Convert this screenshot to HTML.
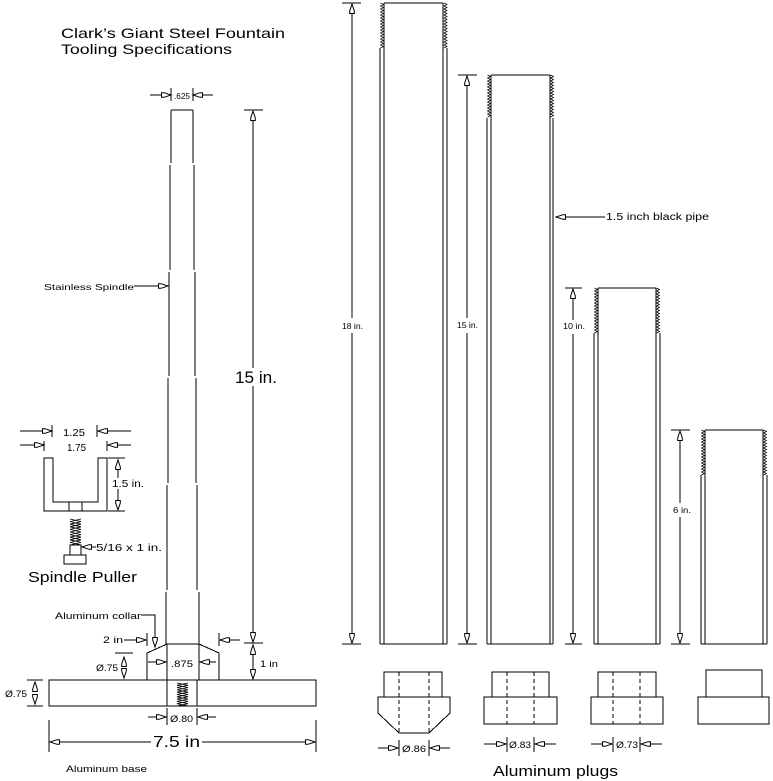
<!DOCTYPE html>
<html><head><meta charset="utf-8"><style>
html,body{margin:0;padding:0;background:#fff;}
svg{display:block;}
text{font-family:"Liberation Sans",sans-serif;fill:#000;}
</style></head><body>
<svg width="773" height="781" viewBox="0 0 773 781" xmlns="http://www.w3.org/2000/svg">
<defs>
<g id="ar"><polygon points="0,0 -7,-2.3 -9.5,-2.3 -9.5,2.3 -7,2.3" fill="#fff" stroke="#000" stroke-width="1"/></g>
</defs>
<rect width="773" height="781" fill="#fff"/>

<!-- Title -->
<text x="61" y="38" font-size="14" textLength="224" lengthAdjust="spacingAndGlyphs">Clark’s Giant Steel Fountain</text>
<text x="61" y="54" font-size="14" textLength="171" lengthAdjust="spacingAndGlyphs">Tooling Specifications</text>

<g stroke="#000" stroke-width="1" fill="none" shape-rendering="crispEdges">
<!-- .625 dim -->
<line x1="150" y1="95" x2="163" y2="95"/>
<line x1="171" y1="88" x2="171" y2="101"/>
<line x1="193" y1="88" x2="193" y2="101"/>
<line x1="203" y1="95" x2="213" y2="95"/>

<!-- spindle -->
<line x1="171" y1="110" x2="193" y2="110"/>
<line x1="171" y1="110" x2="171" y2="163"/><line x1="193" y1="110" x2="193" y2="163"/>
<line x1="170" y1="165" x2="170" y2="270"/><line x1="194" y1="165" x2="194" y2="270"/>
<line x1="169" y1="272" x2="169" y2="376"/><line x1="195" y1="272" x2="195" y2="376"/>
<line x1="168" y1="378" x2="168" y2="483"/><line x1="196" y1="378" x2="196" y2="483"/>
<line x1="167" y1="485" x2="167" y2="590"/><line x1="197" y1="485" x2="197" y2="590"/>
<line x1="166" y1="592" x2="166" y2="644"/><line x1="199" y1="592" x2="199" y2="644"/>

<!-- 15 in dim -->
<line x1="244" y1="110" x2="263" y2="110"/>
<line x1="253" y1="111" x2="253" y2="368"/>
<line x1="253" y1="386" x2="253" y2="643"/>
<line x1="244" y1="643" x2="263" y2="643"/>
<!-- 1 in dim -->
<line x1="253" y1="645" x2="253" y2="679"/>

<!-- collar -->
<polyline points="147,680 147,653 167,644 199,644 219,653 219,680"/>
<line x1="167" y1="644" x2="167" y2="680"/>
<line x1="199" y1="644" x2="199" y2="680"/>
<line x1="148" y1="662" x2="157" y2="662"/>
<line x1="209" y1="662" x2="216" y2="662"/>

<!-- aluminum collar leader -->
<polyline points="141,615 155,615 155,638"/>
<!-- 2 in -->
<line x1="124" y1="640" x2="137" y2="640"/>
<line x1="147" y1="633" x2="147" y2="646"/>
<line x1="219" y1="633" x2="219" y2="646"/>
<line x1="229" y1="640" x2="240" y2="640"/>
<!-- collar 0.75 -->
<line x1="115" y1="653" x2="133" y2="653"/>

<!-- base -->
<rect x="49" y="680" width="267" height="26"/>
<line x1="167" y1="680" x2="167" y2="706"/>
<line x1="197" y1="680" x2="197" y2="706"/>
<!-- base left dim -->
<line x1="27" y1="680" x2="43" y2="680"/>
<line x1="27" y1="706" x2="43" y2="706"/>
<!-- 0.80 -->
<line x1="167" y1="708" x2="167" y2="725"/>
<line x1="197" y1="708" x2="197" y2="725"/>
<line x1="148" y1="717" x2="157" y2="717"/>
<line x1="208" y1="717" x2="216" y2="717"/>
<!-- 7.5 in -->
<line x1="49" y1="720" x2="49" y2="752"/>
<line x1="316" y1="720" x2="316" y2="752"/>
<line x1="59" y1="742" x2="151" y2="742"/>
<line x1="202" y1="742" x2="306" y2="742"/>

<!-- stainless leader -->
<line x1="134" y1="286" x2="159" y2="286"/>

<!-- spindle puller -->
<line x1="20" y1="431" x2="43" y2="431"/>
<line x1="52" y1="425" x2="52" y2="437"/>
<line x1="97" y1="425" x2="97" y2="437"/>
<line x1="107" y1="431" x2="131" y2="431"/>
<line x1="20" y1="445" x2="35" y2="445"/>
<line x1="44" y1="441" x2="44" y2="451"/>
<line x1="107" y1="441" x2="107" y2="451"/>
<line x1="117" y1="445" x2="131" y2="445"/>
<polygon points="44,458 44,511 107,511 107,458 98,458 98,502 53,502 53,458"/>
<line x1="69" y1="502" x2="69" y2="511"/>
<line x1="82" y1="502" x2="82" y2="511"/>
<line x1="108" y1="458" x2="125" y2="458"/>
<line x1="108" y1="511" x2="125" y2="511"/>
<line x1="118" y1="469" x2="118" y2="478"/>
<line x1="118" y1="489" x2="118" y2="501"/>
<rect x="70" y="545" width="11" height="10"/>
<rect x="64" y="555" width="22" height="9"/>
<line x1="91" y1="547" x2="96" y2="547"/>

<!-- pipe 1 -->
<line x1="384" y1="3" x2="443" y2="3"/>
<line x1="384" y1="3" x2="384" y2="644"/>
<line x1="443" y1="3" x2="443" y2="644"/>
<line x1="380" y1="48" x2="380" y2="644"/>
<line x1="447" y1="48" x2="447" y2="644"/>
<line x1="380" y1="644" x2="447" y2="644"/>
<line x1="342" y1="3" x2="361" y2="3"/>
<line x1="352" y1="13" x2="352" y2="318"/>
<line x1="352" y1="333" x2="352" y2="634"/>
<line x1="342" y1="644" x2="361" y2="644"/>

<!-- pipe 2 -->
<line x1="491" y1="75" x2="550" y2="75"/>
<line x1="491" y1="75" x2="491" y2="644"/>
<line x1="550" y1="75" x2="550" y2="644"/>
<line x1="487" y1="118" x2="487" y2="644"/>
<line x1="553" y1="118" x2="553" y2="644"/>
<line x1="487" y1="644" x2="553" y2="644"/>
<line x1="458" y1="75" x2="477" y2="75"/>
<line x1="467" y1="85" x2="467" y2="318"/>
<line x1="467" y1="333" x2="467" y2="634"/>
<line x1="458" y1="644" x2="477" y2="644"/>

<!-- pipe 3 -->
<line x1="598" y1="288" x2="656" y2="288"/>
<line x1="598" y1="288" x2="598" y2="644"/>
<line x1="656" y1="288" x2="656" y2="644"/>
<line x1="594" y1="333" x2="594" y2="644"/>
<line x1="660" y1="333" x2="660" y2="644"/>
<line x1="594" y1="644" x2="660" y2="644"/>
<line x1="565" y1="288" x2="582" y2="288"/>
<line x1="573" y1="298" x2="573" y2="320"/>
<line x1="573" y1="334" x2="573" y2="634"/>
<line x1="565" y1="644" x2="582" y2="644"/>

<!-- pipe 4 -->
<line x1="705" y1="430" x2="763" y2="430"/>
<line x1="705" y1="430" x2="705" y2="644"/>
<line x1="763" y1="430" x2="763" y2="644"/>
<line x1="701" y1="475" x2="701" y2="644"/>
<line x1="767" y1="475" x2="767" y2="644"/>
<line x1="701" y1="644" x2="767" y2="644"/>
<line x1="671" y1="430" x2="690" y2="430"/>
<line x1="680" y1="440" x2="680" y2="503"/>
<line x1="680" y1="517" x2="680" y2="634"/>
<line x1="671" y1="644" x2="690" y2="644"/>

<!-- black pipe leader -->
<line x1="566" y1="217" x2="605" y2="217"/>

<!-- plugs -->
<rect x="384" y="672" width="58" height="25"/>
<polygon points="378,697 450,697 450,713 429,733 399,733 378,713"/>
<rect x="492" y="672" width="57" height="25"/>
<rect x="484" y="697" width="73" height="27"/>
<rect x="598" y="672" width="58" height="25"/>
<rect x="591" y="697" width="72" height="27"/>
<rect x="706" y="670" width="56" height="27"/>
<rect x="698" y="697" width="71" height="27"/>
<g stroke-dasharray="4,3">
<line x1="399" y1="672" x2="399" y2="733"/>
<line x1="429" y1="672" x2="429" y2="733"/>
<line x1="507" y1="672" x2="507" y2="724"/>
<line x1="534" y1="672" x2="534" y2="724"/>
<line x1="613" y1="672" x2="613" y2="724"/>
<line x1="640" y1="672" x2="640" y2="724"/>
</g>
<line x1="378" y1="748" x2="389" y2="748"/>
<line x1="399" y1="740" x2="399" y2="756"/>
<line x1="429" y1="740" x2="429" y2="756"/>
<line x1="440" y1="748" x2="450" y2="748"/>
<line x1="484" y1="744" x2="497" y2="744"/>
<line x1="507" y1="737" x2="507" y2="752"/>
<line x1="534" y1="737" x2="534" y2="752"/>
<line x1="545" y1="744" x2="556" y2="744"/>
<line x1="591" y1="744" x2="603" y2="744"/>
<line x1="613" y1="737" x2="613" y2="752"/>
<line x1="640" y1="737" x2="640" y2="752"/>
<line x1="651" y1="744" x2="662" y2="744"/>
</g>

<!-- threads -->
<g stroke="#000" stroke-width="0.7" fill="none">
<path d="M380.5,3 l3,1.5l-3,1.5l3,1.5l-3,1.5l3,1.5l-3,1.5l3,1.5l-3,1.5l3,1.5l-3,1.5 l3,1.5l-3,1.5l3,1.5l-3,1.5l3,1.5l-3,1.5l3,1.5l-3,1.5l3,1.5l-3,1.5 l3,1.5l-3,1.5l3,1.5l-3,1.5l3,1.5l-3,1.5l3,1.5l-3,1.5l3,1.5l-3,1.5"/>
<path d="M444,3 l3,1.5l-3,1.5l3,1.5l-3,1.5l3,1.5l-3,1.5l3,1.5l-3,1.5l3,1.5l-3,1.5 l3,1.5l-3,1.5l3,1.5l-3,1.5l3,1.5l-3,1.5l3,1.5l-3,1.5l3,1.5l-3,1.5 l3,1.5l-3,1.5l3,1.5l-3,1.5l3,1.5l-3,1.5l3,1.5l-3,1.5l3,1.5l-3,1.5"/>
<path d="M487.5,75 l3,1.5l-3,1.5l3,1.5l-3,1.5l3,1.5l-3,1.5l3,1.5l-3,1.5l3,1.5l-3,1.5 l3,1.5l-3,1.5l3,1.5l-3,1.5l3,1.5l-3,1.5l3,1.5l-3,1.5l3,1.5l-3,1.5 l3,1.5l-3,1.5l3,1.5l-3,1.5l3,1.5l-3,1.5l3,1.5l-3,1.5"/>
<path d="M550.5,75 l3,1.5l-3,1.5l3,1.5l-3,1.5l3,1.5l-3,1.5l3,1.5l-3,1.5l3,1.5l-3,1.5 l3,1.5l-3,1.5l3,1.5l-3,1.5l3,1.5l-3,1.5l3,1.5l-3,1.5l3,1.5l-3,1.5 l3,1.5l-3,1.5l3,1.5l-3,1.5l3,1.5l-3,1.5l3,1.5l-3,1.5"/>
<path d="M594.5,288 l3,1.5l-3,1.5l3,1.5l-3,1.5l3,1.5l-3,1.5l3,1.5l-3,1.5l3,1.5l-3,1.5 l3,1.5l-3,1.5l3,1.5l-3,1.5l3,1.5l-3,1.5l3,1.5l-3,1.5l3,1.5l-3,1.5 l3,1.5l-3,1.5l3,1.5l-3,1.5l3,1.5l-3,1.5l3,1.5l-3,1.5l3,1.5l-3,1.5"/>
<path d="M656.5,288 l3,1.5l-3,1.5l3,1.5l-3,1.5l3,1.5l-3,1.5l3,1.5l-3,1.5l3,1.5l-3,1.5 l3,1.5l-3,1.5l3,1.5l-3,1.5l3,1.5l-3,1.5l3,1.5l-3,1.5l3,1.5l-3,1.5 l3,1.5l-3,1.5l3,1.5l-3,1.5l3,1.5l-3,1.5l3,1.5l-3,1.5l3,1.5l-3,1.5"/>
<path d="M701.5,430 l3,1.5l-3,1.5l3,1.5l-3,1.5l3,1.5l-3,1.5l3,1.5l-3,1.5l3,1.5l-3,1.5 l3,1.5l-3,1.5l3,1.5l-3,1.5l3,1.5l-3,1.5l3,1.5l-3,1.5l3,1.5l-3,1.5 l3,1.5l-3,1.5l3,1.5l-3,1.5l3,1.5l-3,1.5l3,1.5l-3,1.5l3,1.5l-3,1.5"/>
<path d="M763.5,430 l3,1.5l-3,1.5l3,1.5l-3,1.5l3,1.5l-3,1.5l3,1.5l-3,1.5l3,1.5l-3,1.5 l3,1.5l-3,1.5l3,1.5l-3,1.5l3,1.5l-3,1.5l3,1.5l-3,1.5l3,1.5l-3,1.5 l3,1.5l-3,1.5l3,1.5l-3,1.5l3,1.5l-3,1.5l3,1.5l-3,1.5l3,1.5l-3,1.5"/>
</g>
<!-- springs -->
<g stroke="#000" stroke-width="0.8" fill="none">
<path d="M177,683 l11,2.3l-11,2.3l11,2.3l-11,2.3l11,2.3l-11,2.3l11,2.3l-11,2.3l11,2.3l-11,2.3"/>
<path d="M188,683 l-11,2.3l11,2.3l-11,2.3l11,2.3l-11,2.3l11,2.3l-11,2.3l11,2.3l-11,2.3l11,2.3"/>
<path d="M70,519 l11,2.6l-11,2.6l11,2.6l-11,2.6l11,2.6l-11,2.6l11,2.6l-11,2.6l11,2.6l-11,2.6"/>
<path d="M81,519 l-11,2.6l11,2.6l-11,2.6l11,2.6l-11,2.6l11,2.6l-11,2.6l11,2.6l-11,2.6l11,2.6"/>
</g>

<!-- arrows -->
<use href="#ar" transform="translate(171,95)"/>
<use href="#ar" transform="translate(193,95) rotate(180)"/>
<use href="#ar" transform="translate(253,111) rotate(-90)"/>
<use href="#ar" transform="translate(253,642) rotate(90)"/>
<use href="#ar" transform="translate(253,645) rotate(-90)"/>
<use href="#ar" transform="translate(253,679) rotate(90)"/>
<use href="#ar" transform="translate(166,662)"/>
<use href="#ar" transform="translate(200,662) rotate(180)"/>
<use href="#ar" transform="translate(155,647) rotate(90)"/>
<use href="#ar" transform="translate(146,640)"/>
<use href="#ar" transform="translate(220,640) rotate(180)"/>
<use href="#ar" transform="translate(124,657) rotate(-90)"/>
<use href="#ar" transform="translate(124,678) rotate(90)"/>
<use href="#ar" transform="translate(35,682) rotate(-90)"/>
<use href="#ar" transform="translate(35,704) rotate(90)"/>
<use href="#ar" transform="translate(166,717)"/>
<use href="#ar" transform="translate(198,717) rotate(180)"/>
<use href="#ar" transform="translate(50,742) rotate(180)"/>
<use href="#ar" transform="translate(315,742)"/>
<use href="#ar" transform="translate(168,286)"/>
<use href="#ar" transform="translate(52,431)"/>
<use href="#ar" transform="translate(98,431) rotate(180)"/>
<use href="#ar" transform="translate(44,445)"/>
<use href="#ar" transform="translate(108,445) rotate(180)"/>
<use href="#ar" transform="translate(118,460) rotate(-90)"/>
<use href="#ar" transform="translate(118,510) rotate(90)"/>
<use href="#ar" transform="translate(82,547) rotate(180)"/>
<use href="#ar" transform="translate(352,4) rotate(-90)"/>
<use href="#ar" transform="translate(352,643) rotate(90)"/>
<use href="#ar" transform="translate(467,76) rotate(-90)"/>
<use href="#ar" transform="translate(467,643) rotate(90)"/>
<use href="#ar" transform="translate(573,289) rotate(-90)"/>
<use href="#ar" transform="translate(573,643) rotate(90)"/>
<use href="#ar" transform="translate(680,431) rotate(-90)"/>
<use href="#ar" transform="translate(680,643) rotate(90)"/>
<use href="#ar" transform="translate(556,217) rotate(180)"/>
<use href="#ar" transform="translate(398,748)"/>
<use href="#ar" transform="translate(430,748) rotate(180)"/>
<use href="#ar" transform="translate(506,744)"/>
<use href="#ar" transform="translate(535,744) rotate(180)"/>
<use href="#ar" transform="translate(612,744)"/>
<use href="#ar" transform="translate(641,744) rotate(180)"/>

<!-- labels -->
<text x="174" y="99" font-size="8.5" textLength="16" lengthAdjust="spacingAndGlyphs">.625</text>
<text x="44" y="290" font-size="8.5" textLength="90" lengthAdjust="spacingAndGlyphs">Stainless Spindle</text>
<text x="235" y="383" font-size="17" textLength="42" lengthAdjust="spacingAndGlyphs">15 in.</text>
<text x="63" y="436" font-size="10.5" textLength="22" lengthAdjust="spacingAndGlyphs">1.25</text>
<text x="67" y="451" font-size="10.5" textLength="19" lengthAdjust="spacingAndGlyphs">1.75</text>
<text x="112" y="487" font-size="10.5" textLength="32" lengthAdjust="spacingAndGlyphs">1.5 in.</text>
<text x="96" y="551" font-size="10.5" textLength="66" lengthAdjust="spacingAndGlyphs">5/16 x 1 in.</text>
<text x="28" y="582" font-size="15" textLength="109" lengthAdjust="spacingAndGlyphs">Spindle Puller</text>
<text x="55" y="619" font-size="9" textLength="86" lengthAdjust="spacingAndGlyphs">Aluminum collar</text>
<text x="103" y="643" font-size="9.5" textLength="20" lengthAdjust="spacingAndGlyphs">2 in</text>
<text x="171" y="667" font-size="9.5" textLength="22" lengthAdjust="spacingAndGlyphs">.875</text>
<text x="96" y="671" font-size="9" textLength="22" lengthAdjust="spacingAndGlyphs">Ø.75</text>
<text x="260" y="667" font-size="9.5" textLength="18" lengthAdjust="spacingAndGlyphs">1 in</text>
<text x="5" y="697" font-size="9" textLength="22" lengthAdjust="spacingAndGlyphs">Ø.75</text>
<text x="170" y="722" font-size="9" textLength="23" lengthAdjust="spacingAndGlyphs">Ø.80</text>
<text x="153" y="747" font-size="16" textLength="47" lengthAdjust="spacingAndGlyphs">7.5 in</text>
<text x="66" y="772" font-size="9" textLength="81" lengthAdjust="spacingAndGlyphs">Aluminum base</text>

<text x="342" y="329" font-size="8" textLength="21" lengthAdjust="spacingAndGlyphs">18 in.</text>
<text x="457" y="328" font-size="8" textLength="21" lengthAdjust="spacingAndGlyphs">15 in.</text>
<text x="563" y="329" font-size="8" textLength="22" lengthAdjust="spacingAndGlyphs">10 in.</text>
<text x="673" y="513" font-size="8" textLength="18" lengthAdjust="spacingAndGlyphs">6 in.</text>
<text x="606" y="220" font-size="10" textLength="103" lengthAdjust="spacingAndGlyphs">1.5 inch black pipe</text>
<text x="402" y="752" font-size="9" textLength="24" lengthAdjust="spacingAndGlyphs">Ø.86</text>
<text x="509" y="748" font-size="9" textLength="22" lengthAdjust="spacingAndGlyphs">Ø.83</text>
<text x="616" y="748" font-size="9" textLength="22" lengthAdjust="spacingAndGlyphs">Ø.73</text>
<text x="493" y="776" font-size="15" textLength="125" lengthAdjust="spacingAndGlyphs">Aluminum plugs</text>
</svg>
</body></html>
